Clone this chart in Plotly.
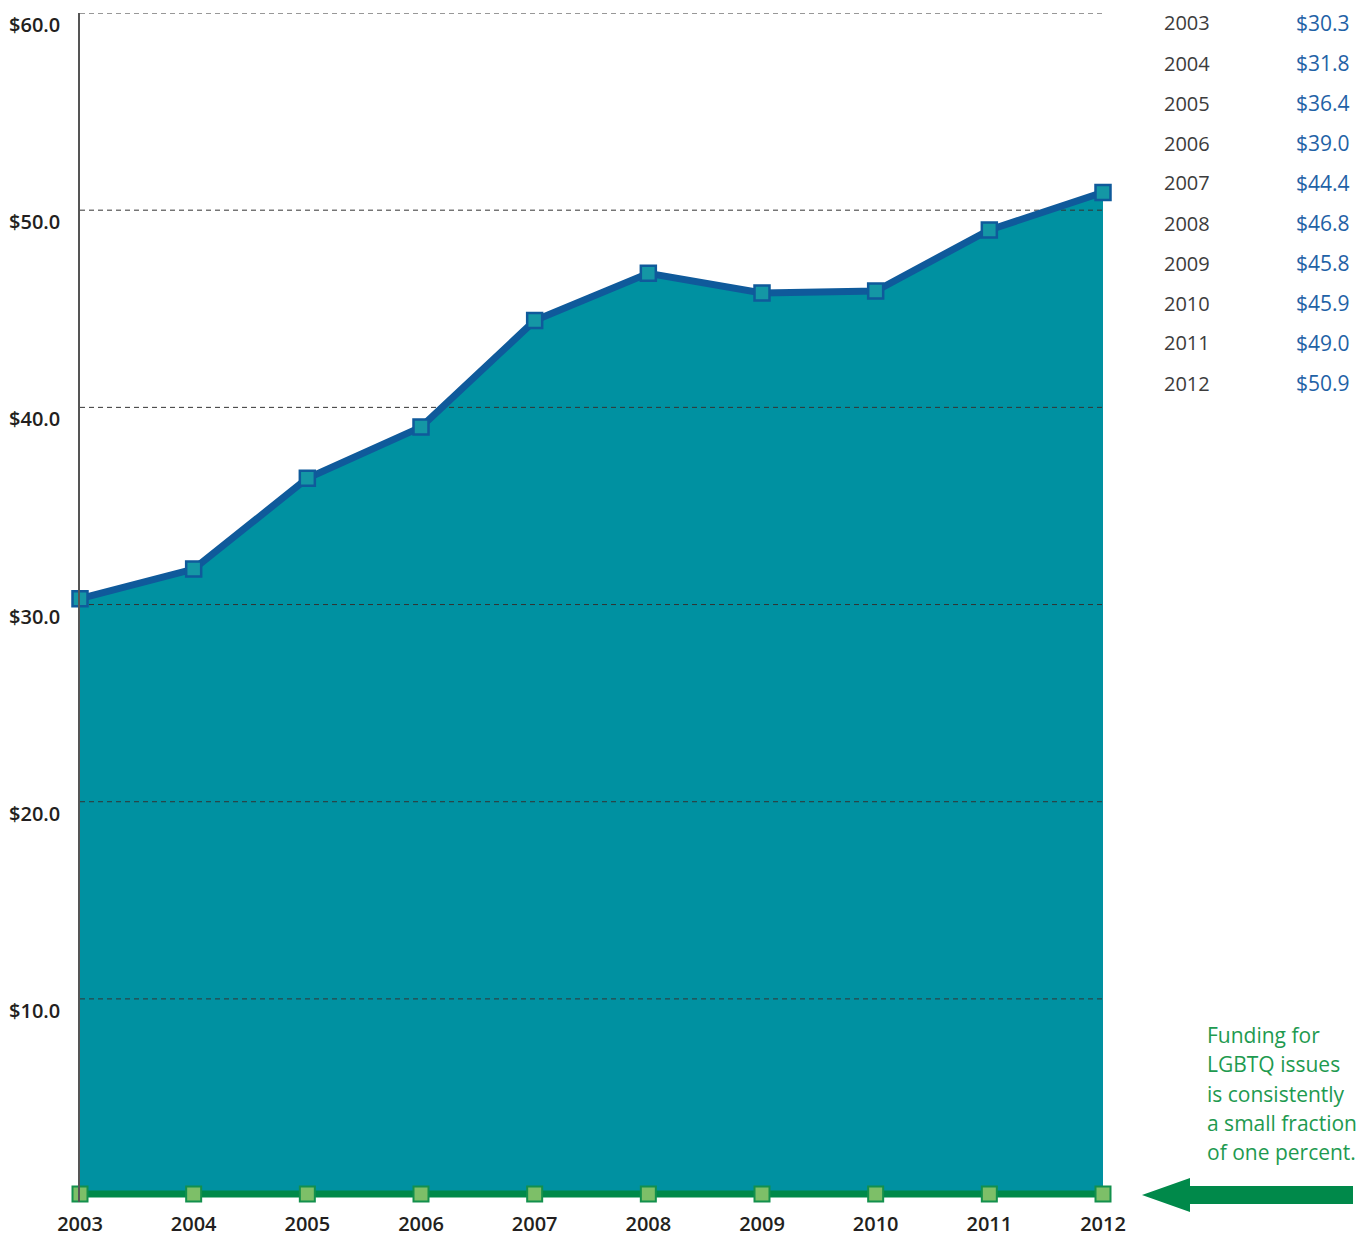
import plotly.graph_objects as go

years = [2003, 2004, 2005, 2006, 2007, 2008, 2009, 2010, 2011, 2012]
total_funding = [30.3, 31.8, 36.4, 39.0, 44.4, 46.8, 45.8, 45.9, 49.0, 50.9]
lgbtq_funding = [0.1, 0.1, 0.1, 0.1, 0.1, 0.1, 0.1, 0.1, 0.1, 0.1]
y_ticks = [10, 20, 30, 40, 50, 60]
y_tick_labels = ["$10.0", "$20.0", "$30.0", "$40.0", "$50.0", "$60.0"]
table_values = ["$30.3", "$31.8", "$36.4", "$39.0", "$44.4",
                "$46.8", "$45.8", "$45.9", "$49.0", "$50.9"]
note_lines = ["Funding for", "LGBTQ issues", "is consistently",
              "a small fraction", "of one percent."]

# page body has an 8px margin; figure is sized to fill the rest of the window
OFF = 8
W, H = 1372 - OFF, 1236 - OFF
PLOT_LEFT, PLOT_RIGHT, PLOT_TOP, PLOT_BOTTOM = 80, 1103, 13, 1202  # screen px
L = PLOT_LEFT - OFF
T = PLOT_TOP - OFF
R = 1372 - PLOT_RIGHT
B = 1236 - PLOT_BOTTOM
PW = PLOT_RIGHT - PLOT_LEFT
PH = PLOT_BOTTOM - PLOT_TOP

def px2paper(px, py):
    return (px - PLOT_LEFT) / PW, (PLOT_BOTTOM - py) / PH

FONT = "Open Sans"
TEAL = "#0091a1"
BLUE = "#0f5a9b"
GREEN = "#00894a"

fig = go.Figure()

# Fill area
fig.add_trace(go.Scatter(
    x=years, y=total_funding, mode="none", fill="tozeroy",
    fillcolor=TEAL, hoverinfo="skip", showlegend=False))

# Dashed gridlines (above fill, below line)
gx, gy = [], []
for v in y_ticks:
    gx += [years[0], years[-1], None]
    gy += [v, v, None]
fig.add_trace(go.Scatter(
    x=gx, y=gy, mode="lines", line=dict(color="#333333", width=1, dash="5px,4px"),
    hoverinfo="skip", showlegend=False, cliponaxis=False))

# Total funding line
fig.add_trace(go.Scatter(
    x=years, y=total_funding, mode="lines+markers",
    line=dict(color=BLUE, width=7),
    marker=dict(symbol="square", size=15, color="#1497a5",
                line=dict(color=BLUE, width=2.5)),
    cliponaxis=False, showlegend=False))

# LGBTQ funding line
fig.add_trace(go.Scatter(
    x=years, y=lgbtq_funding, mode="lines+markers",
    line=dict(color=GREEN, width=7),
    marker=dict(symbol="square", size=15, color="#7dbf68",
                line=dict(color="#13904c", width=2)),
    cliponaxis=False, showlegend=False))

annotations = []
for i, (yr, val) in enumerate(zip(years, table_values)):
    py = 23 + 40 * i
    x1, y1 = px2paper(1162, py)
    annotations.append(dict(x=x1, y=y1, xref="paper", yref="paper", text=str(yr),
                            showarrow=False, xanchor="left", yanchor="middle",
                            font=dict(family=FONT, size=20, color="#3c3c3c")))
    x2, y2 = px2paper(1352, py)
    annotations.append(dict(x=x2, y=y2, xref="paper", yref="paper", text=val,
                            showarrow=False, xanchor="right", yanchor="middle",
                            font=dict(family=FONT, size=21, color="#1f62a6")))

for k, line in enumerate(note_lines):
    nx, ny = px2paper(1205, 1035 + 29.3 * k)
    annotations.append(dict(x=nx, y=ny, xref="paper", yref="paper", text=line,
                            showarrow=False, xanchor="left", yanchor="middle",
                            font=dict(family=FONT, size=21, color="#1e9a50")))

# Arrow shape
pts = [(1142, 1195), (1190, 1178), (1190, 1186), (1353, 1186),
       (1353, 1204), (1190, 1204), (1190, 1212)]
path = ""
for j, (ax, ay) in enumerate(pts):
    qx, qy = px2paper(ax, ay)
    path += ("M" if j == 0 else "L") + f"{qx:.5f},{qy:.5f} "
path += "Z"

fig.update_layout(
    width=W, height=H,
    margin=dict(l=L, r=R, t=T, b=B),
    paper_bgcolor="white", plot_bgcolor="white",
    annotations=annotations,
    shapes=[dict(type="path", path=path, xref="paper", yref="paper",
                 fillcolor=GREEN, line=dict(width=0), layer="above")],
    xaxis=dict(range=[2003, 2012], tickvals=years, ticktext=[str(y) for y in years],
               showgrid=False, zeroline=False, showline=False, ticks="",
               automargin=False, ticklabelstandoff=8,
               tickfont=dict(family=FONT, size=20, color="#231f20", weight=600)),
    yaxis=dict(range=[-0.3, 60], tickvals=y_ticks, ticktext=y_tick_labels,
               showgrid=False, zeroline=False, showline=True, linecolor="#555555",
               linewidth=1.5, ticks="", automargin=False,
               ticklabelstandoff=14, ticklabelshift=12,
               tickfont=dict(family=FONT, size=20, color="#231f20", weight=600)),
)

fig.write_html("out.html")
